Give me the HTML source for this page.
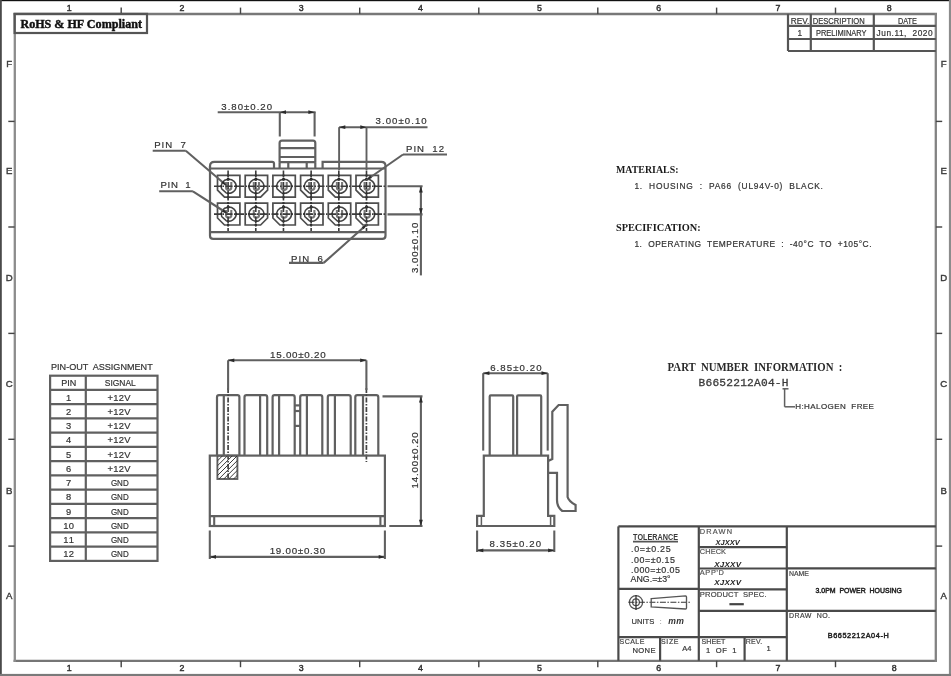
<!DOCTYPE html>
<html><head><meta charset="utf-8"><title>3.0PM Power Housing Drawing</title>
<style>
html,body{margin:0;padding:0;background:#fff;width:951px;height:676px;overflow:hidden;}
svg{display:block;font-family:"Liberation Sans",sans-serif;}
</style></head><body>
<svg xmlns="http://www.w3.org/2000/svg" width="951" height="676" viewBox="0 0 951 676">
<rect width="951" height="676" fill="#ffffff"/>
<g style="will-change:transform">
<rect x="0" y="0" width="951" height="1.2" fill="#111"/>
<rect x="0" y="0" width="1.8" height="676" fill="#4a4a4a"/>
<rect x="948.9" y="0" width="2.1" height="676" fill="#8c8c8c"/>
<rect x="0" y="673.9" width="951" height="2.1" fill="#7a7a7a"/>
<line x1="13.6" y1="14.0" x2="937" y2="14.0" stroke="#787878" stroke-width="2.3"/>
<line x1="13.6" y1="660.8" x2="937" y2="660.8" stroke="#767676" stroke-width="2.3"/>
<line x1="14.8" y1="12.9" x2="14.8" y2="661.9" stroke="#8c8c8c" stroke-width="2.3"/>
<line x1="935.8" y1="12.9" x2="935.8" y2="661.9" stroke="#828282" stroke-width="2.3"/>
<line x1="121.2" y1="7.6" x2="121.2" y2="13.9" stroke="#444" stroke-width="1.42" />
<line x1="121.2" y1="660.8" x2="121.2" y2="667.2" stroke="#444" stroke-width="1.42" />
<line x1="240.5" y1="7.6" x2="240.5" y2="13.9" stroke="#444" stroke-width="1.42" />
<line x1="240.5" y1="660.8" x2="240.5" y2="667.2" stroke="#444" stroke-width="1.42" />
<line x1="359.7" y1="7.6" x2="359.7" y2="13.9" stroke="#444" stroke-width="1.42" />
<line x1="359.7" y1="660.8" x2="359.7" y2="667.2" stroke="#444" stroke-width="1.42" />
<line x1="478.8" y1="7.6" x2="478.8" y2="13.9" stroke="#444" stroke-width="1.42" />
<line x1="478.8" y1="660.8" x2="478.8" y2="667.2" stroke="#444" stroke-width="1.42" />
<line x1="597.8" y1="7.6" x2="597.8" y2="13.9" stroke="#444" stroke-width="1.42" />
<line x1="597.8" y1="660.8" x2="597.8" y2="667.2" stroke="#444" stroke-width="1.42" />
<line x1="716.6" y1="7.6" x2="716.6" y2="13.9" stroke="#444" stroke-width="1.42" />
<line x1="716.6" y1="660.8" x2="716.6" y2="667.2" stroke="#444" stroke-width="1.42" />
<line x1="835.5" y1="7.6" x2="835.5" y2="13.9" stroke="#444" stroke-width="1.42" />
<line x1="835.5" y1="660.8" x2="835.5" y2="667.2" stroke="#444" stroke-width="1.42" />
<line x1="8.3" y1="121.4" x2="14.6" y2="121.4" stroke="#444" stroke-width="1.42" />
<line x1="935.9" y1="121.4" x2="942.2" y2="121.4" stroke="#444" stroke-width="1.42" />
<line x1="8.3" y1="227" x2="14.6" y2="227" stroke="#444" stroke-width="1.42" />
<line x1="935.9" y1="227" x2="942.2" y2="227" stroke="#444" stroke-width="1.42" />
<line x1="8.3" y1="333.4" x2="14.6" y2="333.4" stroke="#444" stroke-width="1.42" />
<line x1="935.9" y1="333.4" x2="942.2" y2="333.4" stroke="#444" stroke-width="1.42" />
<line x1="8.3" y1="439.3" x2="14.6" y2="439.3" stroke="#444" stroke-width="1.42" />
<line x1="935.9" y1="439.3" x2="942.2" y2="439.3" stroke="#444" stroke-width="1.42" />
<line x1="8.3" y1="546.1" x2="14.6" y2="546.1" stroke="#444" stroke-width="1.42" />
<line x1="935.9" y1="546.1" x2="942.2" y2="546.1" stroke="#444" stroke-width="1.42" />
<text x="69.2" y="10.5" font-family="Liberation Sans" font-size="8.8" font-weight="normal" font-style="normal" text-anchor="middle" fill="#333" xml:space="preserve"  stroke="#333" stroke-width="0.45">1</text>
<text x="69.2" y="671.2" font-family="Liberation Sans" font-size="8.8" font-weight="normal" font-style="normal" text-anchor="middle" fill="#333" xml:space="preserve"  stroke="#333" stroke-width="0.45">1</text>
<text x="181.9" y="10.5" font-family="Liberation Sans" font-size="8.8" font-weight="normal" font-style="normal" text-anchor="middle" fill="#333" xml:space="preserve"  stroke="#333" stroke-width="0.45">2</text>
<text x="181.9" y="671.2" font-family="Liberation Sans" font-size="8.8" font-weight="normal" font-style="normal" text-anchor="middle" fill="#333" xml:space="preserve"  stroke="#333" stroke-width="0.45">2</text>
<text x="301.2" y="10.5" font-family="Liberation Sans" font-size="8.8" font-weight="normal" font-style="normal" text-anchor="middle" fill="#333" xml:space="preserve"  stroke="#333" stroke-width="0.45">3</text>
<text x="301.2" y="671.2" font-family="Liberation Sans" font-size="8.8" font-weight="normal" font-style="normal" text-anchor="middle" fill="#333" xml:space="preserve"  stroke="#333" stroke-width="0.45">3</text>
<text x="420.5" y="10.5" font-family="Liberation Sans" font-size="8.8" font-weight="normal" font-style="normal" text-anchor="middle" fill="#333" xml:space="preserve"  stroke="#333" stroke-width="0.45">4</text>
<text x="420.5" y="671.2" font-family="Liberation Sans" font-size="8.8" font-weight="normal" font-style="normal" text-anchor="middle" fill="#333" xml:space="preserve"  stroke="#333" stroke-width="0.45">4</text>
<text x="539.5" y="10.5" font-family="Liberation Sans" font-size="8.8" font-weight="normal" font-style="normal" text-anchor="middle" fill="#333" xml:space="preserve"  stroke="#333" stroke-width="0.45">5</text>
<text x="539.5" y="671.2" font-family="Liberation Sans" font-size="8.8" font-weight="normal" font-style="normal" text-anchor="middle" fill="#333" xml:space="preserve"  stroke="#333" stroke-width="0.45">5</text>
<text x="658.6" y="10.5" font-family="Liberation Sans" font-size="8.8" font-weight="normal" font-style="normal" text-anchor="middle" fill="#333" xml:space="preserve"  stroke="#333" stroke-width="0.45">6</text>
<text x="658.6" y="671.2" font-family="Liberation Sans" font-size="8.8" font-weight="normal" font-style="normal" text-anchor="middle" fill="#333" xml:space="preserve"  stroke="#333" stroke-width="0.45">6</text>
<text x="777.9" y="10.5" font-family="Liberation Sans" font-size="8.8" font-weight="normal" font-style="normal" text-anchor="middle" fill="#333" xml:space="preserve"  stroke="#333" stroke-width="0.45">7</text>
<text x="777.9" y="671.2" font-family="Liberation Sans" font-size="8.8" font-weight="normal" font-style="normal" text-anchor="middle" fill="#333" xml:space="preserve"  stroke="#333" stroke-width="0.45">7</text>
<text x="889.2" y="10.5" font-family="Liberation Sans" font-size="8.8" font-weight="normal" font-style="normal" text-anchor="middle" fill="#333" xml:space="preserve"  stroke="#333" stroke-width="0.45">8</text>
<text x="894.2" y="671.2" font-family="Liberation Sans" font-size="8.8" font-weight="normal" font-style="normal" text-anchor="middle" fill="#333" xml:space="preserve"  stroke="#333" stroke-width="0.45">8</text>
<text x="9.3" y="66.89999999999999" font-family="Liberation Sans" font-size="9.6" font-weight="normal" font-style="normal" text-anchor="middle" fill="#3a3a3a" xml:space="preserve"  stroke="#3a3a3a" stroke-width="0.4">F</text>
<text x="943.8" y="66.89999999999999" font-family="Liberation Sans" font-size="9.6" font-weight="normal" font-style="normal" text-anchor="middle" fill="#3a3a3a" xml:space="preserve"  stroke="#3a3a3a" stroke-width="0.4">F</text>
<text x="9.3" y="174.2" font-family="Liberation Sans" font-size="9.6" font-weight="normal" font-style="normal" text-anchor="middle" fill="#3a3a3a" xml:space="preserve"  stroke="#3a3a3a" stroke-width="0.4">E</text>
<text x="943.8" y="174.2" font-family="Liberation Sans" font-size="9.6" font-weight="normal" font-style="normal" text-anchor="middle" fill="#3a3a3a" xml:space="preserve"  stroke="#3a3a3a" stroke-width="0.4">E</text>
<text x="9.3" y="281.0" font-family="Liberation Sans" font-size="9.6" font-weight="normal" font-style="normal" text-anchor="middle" fill="#3a3a3a" xml:space="preserve"  stroke="#3a3a3a" stroke-width="0.4">D</text>
<text x="943.8" y="281.0" font-family="Liberation Sans" font-size="9.6" font-weight="normal" font-style="normal" text-anchor="middle" fill="#3a3a3a" xml:space="preserve"  stroke="#3a3a3a" stroke-width="0.4">D</text>
<text x="9.3" y="387.3" font-family="Liberation Sans" font-size="9.6" font-weight="normal" font-style="normal" text-anchor="middle" fill="#3a3a3a" xml:space="preserve"  stroke="#3a3a3a" stroke-width="0.4">C</text>
<text x="943.8" y="387.3" font-family="Liberation Sans" font-size="9.6" font-weight="normal" font-style="normal" text-anchor="middle" fill="#3a3a3a" xml:space="preserve"  stroke="#3a3a3a" stroke-width="0.4">C</text>
<text x="9.3" y="493.8" font-family="Liberation Sans" font-size="9.6" font-weight="normal" font-style="normal" text-anchor="middle" fill="#3a3a3a" xml:space="preserve"  stroke="#3a3a3a" stroke-width="0.4">B</text>
<text x="943.8" y="493.8" font-family="Liberation Sans" font-size="9.6" font-weight="normal" font-style="normal" text-anchor="middle" fill="#3a3a3a" xml:space="preserve"  stroke="#3a3a3a" stroke-width="0.4">B</text>
<text x="9.3" y="599.4" font-family="Liberation Sans" font-size="9.6" font-weight="normal" font-style="normal" text-anchor="middle" fill="#3a3a3a" xml:space="preserve"  stroke="#3a3a3a" stroke-width="0.4">A</text>
<text x="943.8" y="599.4" font-family="Liberation Sans" font-size="9.6" font-weight="normal" font-style="normal" text-anchor="middle" fill="#3a3a3a" xml:space="preserve"  stroke="#3a3a3a" stroke-width="0.4">A</text>
<rect x="14.6" y="13.9" width="132.4" height="19.1" stroke="#555" stroke-width="2.2" fill="none" rx="0"/>
<text x="20.4" y="28.1" font-family="Liberation Serif" font-size="12.9" font-weight="bold" font-style="normal" text-anchor="start" fill="#111" textLength="121.6" lengthAdjust="spacingAndGlyphs" xml:space="preserve"  stroke="#111" stroke-width="0.45">RoHS &amp; HF Compliant</text>
<line x1="788" y1="25.8" x2="935.9" y2="25.8" stroke="#555" stroke-width="2.2" />
<line x1="788" y1="39.0" x2="935.9" y2="39.0" stroke="#555" stroke-width="2.2" />
<line x1="788" y1="51.0" x2="935.9" y2="51.0" stroke="#555" stroke-width="2.2" />
<line x1="788" y1="13.9" x2="788" y2="51" stroke="#555" stroke-width="2.2" />
<line x1="810.8" y1="13.9" x2="810.8" y2="51" stroke="#555" stroke-width="2.2" />
<line x1="873.8" y1="13.9" x2="873.8" y2="51" stroke="#555" stroke-width="2.2" />
<text x="790.7" y="23.5" font-family="Liberation Sans" font-size="8.3" font-weight="normal" font-style="normal" text-anchor="start" fill="#333333" textLength="18.7" lengthAdjust="spacing" xml:space="preserve"  stroke="#333333" stroke-width="0.2">REV.</text>
<text x="812.7" y="23.5" font-family="Liberation Sans" font-size="8.3" font-weight="normal" font-style="normal" text-anchor="start" fill="#333333" textLength="52" lengthAdjust="spacingAndGlyphs" xml:space="preserve"  stroke="#333333" stroke-width="0.2">DESCRIPTION</text>
<text x="897.9" y="23.5" font-family="Liberation Sans" font-size="8.3" font-weight="normal" font-style="normal" text-anchor="start" fill="#333333" textLength="19.0" lengthAdjust="spacingAndGlyphs" xml:space="preserve"  stroke="#333333" stroke-width="0.2">DATE</text>
<text x="799.7" y="35.5" font-family="Liberation Sans" font-size="8.3" font-weight="normal" font-style="normal" text-anchor="middle" fill="#333333" xml:space="preserve"  stroke="#333333" stroke-width="0.2">1</text>
<text x="816" y="35.5" font-family="Liberation Sans" font-size="8.3" font-weight="normal" font-style="normal" text-anchor="start" fill="#333333" textLength="50.5" lengthAdjust="spacingAndGlyphs" xml:space="preserve"  stroke="#333333" stroke-width="0.2">PRELIMINARY</text>
<text x="876.6" y="35.5" font-family="Liberation Sans" font-size="8.3" font-weight="normal" font-style="normal" text-anchor="start" fill="#333333" textLength="56" lengthAdjust="spacing" xml:space="preserve"  stroke="#333333" stroke-width="0.2">Jun.11,  2020</text>
<path d="M210.0,168.5 L210.0,166.2 Q210.0,161.8 214.4,161.8 L272.2,161.8 Q274,161.8 274,163.6 L274,168.5" stroke="#606060" stroke-width="2.2" fill="none" />
<path d="M322.6,168.5 L322.6,161.9 L381.3,161.9 Q385.5,161.9 385.5,166.1" stroke="#606060" stroke-width="2.2" fill="none" />
<path d="M210.0,166.2 L210.0,235.7 Q210.0,238.9 213.2,238.9 L382.3,238.9 Q385.5,238.9 385.5,235.7 L385.5,166.1" stroke="#606060" stroke-width="2.2" fill="none" />
<line x1="210.0" y1="168.5" x2="385.5" y2="168.5" stroke="#606060" stroke-width="2.2" />
<line x1="210.0" y1="232.1" x2="385.5" y2="232.1" stroke="#606060" stroke-width="2.2" />
<path d="M279.6,162.1 L279.6,143 Q279.6,140.6 282,140.6 L313,140.6 Q315.3,140.6 315.3,143 L315.3,162.1" stroke="#606060" stroke-width="2.2" fill="none" />
<line x1="279.6" y1="148.2" x2="315.3" y2="148.2" stroke="#606060" stroke-width="2.2" />
<line x1="279.6" y1="157" x2="315.3" y2="157" stroke="#606060" stroke-width="2.2" />
<line x1="279.6" y1="162.1" x2="315.3" y2="162.1" stroke="#606060" stroke-width="2.2" />
<line x1="279.6" y1="162.1" x2="279.6" y2="168.3" stroke="#606060" stroke-width="2.2" />
<line x1="288.3" y1="162.1" x2="288.3" y2="168.3" stroke="#606060" stroke-width="2.2" />
<line x1="306.7" y1="162.1" x2="306.7" y2="168.3" stroke="#606060" stroke-width="2.2" />
<line x1="315.3" y1="162.1" x2="315.3" y2="168.3" stroke="#606060" stroke-width="2.2" />
<path d="M217.5,175.4 L239.9,175.4 L239.9,197.2 L224.5,197.2 L217.5,190.2 Z" stroke="#4e4e4e" stroke-width="1.71" fill="none" />
<path d="M221.65,188.69 A7.5,7.0 0 1 1 226.13,192.88 Z" stroke="#444" stroke-width="1.52" fill="none" />
<path d="M226.1,182.1 L226.1,187.8 Q226.1,189.9 228.7,189.9 Q231.3,189.9 231.3,187.8 L231.3,182.1" stroke="#777" stroke-width="2.09" fill="none" />
<circle cx="228.1" cy="179.3" r="1.5" fill="#1e1e1e"/>
<circle cx="228.1" cy="193.3" r="1.2" fill="#2a2a2a"/>
<circle cx="221.2" cy="186.3" r="1.1" fill="#2a2a2a"/>
<circle cx="236.2" cy="186.3" r="1.1" fill="#2a2a2a"/>
<circle cx="228.1" cy="197.2" r="1.2" fill="#2a2a2a"/>
<circle cx="228.1" cy="175.4" r="1.1" fill="#2a2a2a"/>
<path d="M245.2,175.4 L267.6,175.4 L267.6,190.2 L260.6,197.2 L245.2,197.2 Z" stroke="#4e4e4e" stroke-width="1.71" fill="none" />
<path d="M258.97,192.88 A7.5,7.0 0 1 1 263.45,188.69 Z" stroke="#444" stroke-width="1.52" fill="none" />
<path d="M253.8,182.1 L253.8,187.8 Q253.8,189.9 256.4,189.9 Q259.0,189.9 259.0,187.8 L259.0,182.1" stroke="#777" stroke-width="2.09" fill="none" />
<circle cx="255.8" cy="179.3" r="1.5" fill="#1e1e1e"/>
<circle cx="255.8" cy="193.3" r="1.2" fill="#2a2a2a"/>
<circle cx="248.9" cy="186.3" r="1.1" fill="#2a2a2a"/>
<circle cx="263.9" cy="186.3" r="1.1" fill="#2a2a2a"/>
<circle cx="255.8" cy="197.2" r="1.2" fill="#2a2a2a"/>
<circle cx="255.8" cy="175.4" r="1.1" fill="#2a2a2a"/>
<path d="M272.9,175.4 L295.3,175.4 L295.3,197.2 L272.9,197.2 Z" stroke="#4e4e4e" stroke-width="1.71" fill="none" />
<path d="M277.05,188.69 A7.5,7.0 0 1 1 281.53,192.88 Z" stroke="#444" stroke-width="1.52" fill="none" />
<path d="M281.5,182.1 L281.5,187.8 Q281.5,189.9 284.1,189.9 Q286.7,189.9 286.7,187.8 L286.7,182.1" stroke="#777" stroke-width="2.09" fill="none" />
<circle cx="283.5" cy="179.3" r="1.5" fill="#1e1e1e"/>
<circle cx="283.5" cy="193.3" r="1.2" fill="#2a2a2a"/>
<circle cx="276.6" cy="186.3" r="1.1" fill="#2a2a2a"/>
<circle cx="291.6" cy="186.3" r="1.1" fill="#2a2a2a"/>
<circle cx="283.5" cy="197.2" r="1.2" fill="#2a2a2a"/>
<circle cx="283.5" cy="175.4" r="1.1" fill="#2a2a2a"/>
<path d="M300.6,175.4 L323.0,175.4 L323.0,197.2 L307.6,197.2 L300.6,190.2 Z" stroke="#4e4e4e" stroke-width="1.71" fill="none" />
<path d="M304.75,188.69 A7.5,7.0 0 1 1 309.23,192.88 Z" stroke="#444" stroke-width="1.52" fill="none" />
<path d="M309.2,182.1 L309.2,187.8 Q309.2,189.9 311.8,189.9 Q314.4,189.9 314.4,187.8 L314.4,182.1" stroke="#777" stroke-width="2.09" fill="none" />
<circle cx="311.1" cy="179.3" r="1.5" fill="#1e1e1e"/>
<circle cx="311.1" cy="193.3" r="1.2" fill="#2a2a2a"/>
<circle cx="304.3" cy="186.3" r="1.1" fill="#2a2a2a"/>
<circle cx="319.3" cy="186.3" r="1.1" fill="#2a2a2a"/>
<circle cx="311.1" cy="197.2" r="1.2" fill="#2a2a2a"/>
<circle cx="311.1" cy="175.4" r="1.1" fill="#2a2a2a"/>
<path d="M328.3,175.4 L350.7,175.4 L350.7,197.2 L335.3,197.2 L328.3,190.2 Z" stroke="#4e4e4e" stroke-width="1.71" fill="none" />
<path d="M332.45,188.69 A7.5,7.0 0 1 1 336.93,192.88 Z" stroke="#444" stroke-width="1.52" fill="none" />
<path d="M336.9,182.1 L336.9,187.8 Q336.9,189.9 339.5,189.9 Q342.1,189.9 342.1,187.8 L342.1,182.1" stroke="#777" stroke-width="2.09" fill="none" />
<circle cx="338.8" cy="179.3" r="1.5" fill="#1e1e1e"/>
<circle cx="338.8" cy="193.3" r="1.2" fill="#2a2a2a"/>
<circle cx="332.0" cy="186.3" r="1.1" fill="#2a2a2a"/>
<circle cx="347.0" cy="186.3" r="1.1" fill="#2a2a2a"/>
<circle cx="338.8" cy="197.2" r="1.2" fill="#2a2a2a"/>
<circle cx="338.8" cy="175.4" r="1.1" fill="#2a2a2a"/>
<path d="M356.0,175.4 L378.4,175.4 L378.4,197.2 L363.0,197.2 L356.0,190.2 Z" stroke="#4e4e4e" stroke-width="1.71" fill="none" />
<path d="M360.15,188.69 A7.5,7.0 0 1 1 364.63,192.88 Z" stroke="#444" stroke-width="1.52" fill="none" />
<path d="M364.6,182.1 L364.6,187.8 Q364.6,189.9 367.2,189.9 Q369.8,189.9 369.8,187.8 L369.8,182.1" stroke="#777" stroke-width="2.09" fill="none" />
<circle cx="366.5" cy="179.3" r="1.5" fill="#1e1e1e"/>
<circle cx="366.5" cy="193.3" r="1.2" fill="#2a2a2a"/>
<circle cx="359.7" cy="186.3" r="1.1" fill="#2a2a2a"/>
<circle cx="374.7" cy="186.3" r="1.1" fill="#2a2a2a"/>
<circle cx="366.5" cy="197.2" r="1.2" fill="#2a2a2a"/>
<circle cx="366.5" cy="175.4" r="1.1" fill="#2a2a2a"/>
<path d="M217.5,203.2 L239.9,203.2 L239.9,225.0 L224.5,225.0 L217.5,218.0 Z" stroke="#4e4e4e" stroke-width="1.71" fill="none" />
<path d="M221.65,216.49 A7.5,7.0 0 1 1 226.13,220.68 Z" stroke="#444" stroke-width="1.52" fill="none" />
<path d="M226.1,209.9 L226.1,215.6 Q226.1,217.7 228.7,217.7 Q231.3,217.7 231.3,215.6 L231.3,209.9" stroke="#777" stroke-width="2.09" fill="none" />
<circle cx="228.1" cy="207.1" r="1.5" fill="#1e1e1e"/>
<circle cx="228.1" cy="221.1" r="1.2" fill="#2a2a2a"/>
<circle cx="221.2" cy="214.1" r="1.1" fill="#2a2a2a"/>
<circle cx="236.2" cy="214.1" r="1.1" fill="#2a2a2a"/>
<circle cx="228.1" cy="225.0" r="1.2" fill="#2a2a2a"/>
<circle cx="228.1" cy="203.2" r="1.1" fill="#2a2a2a"/>
<path d="M245.2,203.2 L267.6,203.2 L267.6,218.0 L260.6,225.0 L245.2,225.0 Z" stroke="#4e4e4e" stroke-width="1.71" fill="none" />
<path d="M258.97,220.68 A7.5,7.0 0 1 1 263.45,216.49 Z" stroke="#444" stroke-width="1.52" fill="none" />
<path d="M253.8,209.9 L253.8,215.6 Q253.8,217.7 256.4,217.7 Q259.0,217.7 259.0,215.6 L259.0,209.9" stroke="#777" stroke-width="2.09" fill="none" />
<circle cx="255.8" cy="207.1" r="1.5" fill="#1e1e1e"/>
<circle cx="255.8" cy="221.1" r="1.2" fill="#2a2a2a"/>
<circle cx="248.9" cy="214.1" r="1.1" fill="#2a2a2a"/>
<circle cx="263.9" cy="214.1" r="1.1" fill="#2a2a2a"/>
<circle cx="255.8" cy="225.0" r="1.2" fill="#2a2a2a"/>
<circle cx="255.8" cy="203.2" r="1.1" fill="#2a2a2a"/>
<path d="M272.9,203.2 L295.3,203.2 L295.3,225.0 L279.9,225.0 L272.9,218.0 Z" stroke="#4e4e4e" stroke-width="1.71" fill="none" />
<path d="M277.05,216.49 A7.5,7.0 0 1 1 281.53,220.68 Z" stroke="#444" stroke-width="1.52" fill="none" />
<path d="M281.5,209.9 L281.5,215.6 Q281.5,217.7 284.1,217.7 Q286.7,217.7 286.7,215.6 L286.7,209.9" stroke="#777" stroke-width="2.09" fill="none" />
<circle cx="283.5" cy="207.1" r="1.5" fill="#1e1e1e"/>
<circle cx="283.5" cy="221.1" r="1.2" fill="#2a2a2a"/>
<circle cx="276.6" cy="214.1" r="1.1" fill="#2a2a2a"/>
<circle cx="291.6" cy="214.1" r="1.1" fill="#2a2a2a"/>
<circle cx="283.5" cy="225.0" r="1.2" fill="#2a2a2a"/>
<circle cx="283.5" cy="203.2" r="1.1" fill="#2a2a2a"/>
<path d="M300.6,203.2 L323.0,203.2 L323.0,225.0 L307.6,225.0 L300.6,218.0 Z" stroke="#4e4e4e" stroke-width="1.71" fill="none" />
<path d="M304.75,216.49 A7.5,7.0 0 1 1 309.23,220.68 Z" stroke="#444" stroke-width="1.52" fill="none" />
<path d="M309.2,209.9 L309.2,215.6 Q309.2,217.7 311.8,217.7 Q314.4,217.7 314.4,215.6 L314.4,209.9" stroke="#777" stroke-width="2.09" fill="none" />
<circle cx="311.1" cy="207.1" r="1.5" fill="#1e1e1e"/>
<circle cx="311.1" cy="221.1" r="1.2" fill="#2a2a2a"/>
<circle cx="304.3" cy="214.1" r="1.1" fill="#2a2a2a"/>
<circle cx="319.3" cy="214.1" r="1.1" fill="#2a2a2a"/>
<circle cx="311.1" cy="225.0" r="1.2" fill="#2a2a2a"/>
<circle cx="311.1" cy="203.2" r="1.1" fill="#2a2a2a"/>
<path d="M328.3,203.2 L350.7,203.2 L350.7,225.0 L335.3,225.0 L328.3,218.0 Z" stroke="#4e4e4e" stroke-width="1.71" fill="none" />
<path d="M332.45,216.49 A7.5,7.0 0 1 1 336.93,220.68 Z" stroke="#444" stroke-width="1.52" fill="none" />
<path d="M336.9,209.9 L336.9,215.6 Q336.9,217.7 339.5,217.7 Q342.1,217.7 342.1,215.6 L342.1,209.9" stroke="#777" stroke-width="2.09" fill="none" />
<circle cx="338.8" cy="207.1" r="1.5" fill="#1e1e1e"/>
<circle cx="338.8" cy="221.1" r="1.2" fill="#2a2a2a"/>
<circle cx="332.0" cy="214.1" r="1.1" fill="#2a2a2a"/>
<circle cx="347.0" cy="214.1" r="1.1" fill="#2a2a2a"/>
<circle cx="338.8" cy="225.0" r="1.2" fill="#2a2a2a"/>
<circle cx="338.8" cy="203.2" r="1.1" fill="#2a2a2a"/>
<path d="M356.0,203.2 L378.4,203.2 L378.4,225.0 L363.0,225.0 L356.0,218.0 Z" stroke="#4e4e4e" stroke-width="1.71" fill="none" />
<path d="M360.15,216.49 A7.5,7.0 0 1 1 364.63,220.68 Z" stroke="#444" stroke-width="1.52" fill="none" />
<path d="M364.6,209.9 L364.6,215.6 Q364.6,217.7 367.2,217.7 Q369.8,217.7 369.8,215.6 L369.8,209.9" stroke="#777" stroke-width="2.09" fill="none" />
<circle cx="366.5" cy="207.1" r="1.5" fill="#1e1e1e"/>
<circle cx="366.5" cy="221.1" r="1.2" fill="#2a2a2a"/>
<circle cx="359.7" cy="214.1" r="1.1" fill="#2a2a2a"/>
<circle cx="374.7" cy="214.1" r="1.1" fill="#2a2a2a"/>
<circle cx="366.5" cy="225.0" r="1.2" fill="#2a2a2a"/>
<circle cx="366.5" cy="203.2" r="1.1" fill="#2a2a2a"/>
<line x1="214" y1="186.3" x2="385.5" y2="186.3" stroke="#3a3a3a" stroke-width="1.61" stroke-dasharray="7,1.5,1.5,1.5"/>
<line x1="214" y1="214.1" x2="385.5" y2="214.1" stroke="#3a3a3a" stroke-width="1.61" stroke-dasharray="7,1.5,1.5,1.5"/>
<line x1="228.1" y1="170.5" x2="228.1" y2="231" stroke="#3a3a3a" stroke-width="1.61" stroke-dasharray="7,1.5,1.5,1.5"/>
<line x1="255.78" y1="170.5" x2="255.78" y2="231" stroke="#3a3a3a" stroke-width="1.61" stroke-dasharray="7,1.5,1.5,1.5"/>
<line x1="283.46" y1="170.5" x2="283.46" y2="231" stroke="#3a3a3a" stroke-width="1.61" stroke-dasharray="7,1.5,1.5,1.5"/>
<line x1="311.14" y1="170.5" x2="311.14" y2="231" stroke="#3a3a3a" stroke-width="1.61" stroke-dasharray="7,1.5,1.5,1.5"/>
<line x1="338.82" y1="170.5" x2="338.82" y2="231" stroke="#3a3a3a" stroke-width="1.61" stroke-dasharray="7,1.5,1.5,1.5"/>
<line x1="366.5" y1="170.5" x2="366.5" y2="231" stroke="#3a3a3a" stroke-width="1.61" stroke-dasharray="7,1.5,1.5,1.5"/>
<line x1="217.7" y1="112.2" x2="315.6" y2="112.2" stroke="#606060" stroke-width="2.09" />
<line x1="279.8" y1="112.2" x2="279.8" y2="136.5" stroke="#606060" stroke-width="2.09" />
<line x1="314.6" y1="112.2" x2="314.6" y2="136.5" stroke="#606060" stroke-width="2.09" />
<polygon points="279.8,112.2 286.0,110.3 286.0,114.1" fill="#2a2a2a"/>
<polygon points="314.6,112.2 308.4,110.3 308.4,114.1" fill="#2a2a2a"/>
<text x="221.3" y="109.9" font-family="Liberation Sans" font-size="9.6" font-weight="normal" font-style="normal" text-anchor="start" fill="#333333" textLength="50.7" lengthAdjust="spacing" xml:space="preserve"  stroke="#333333" stroke-width="0.2">3.80±0.20</text>
<line x1="339.1" y1="127.2" x2="427.5" y2="127.2" stroke="#606060" stroke-width="2.09" />
<line x1="339.1" y1="127.2" x2="339.1" y2="170" stroke="#606060" stroke-width="1.9" />
<line x1="366.5" y1="127.2" x2="366.5" y2="170" stroke="#606060" stroke-width="1.9" />
<polygon points="339.1,127.2 345.3,125.3 345.3,129.1" fill="#2a2a2a"/>
<polygon points="366.5,127.2 360.3,125.3 360.3,129.1" fill="#2a2a2a"/>
<text x="375.5" y="124.4" font-family="Liberation Sans" font-size="9.6" font-weight="normal" font-style="normal" text-anchor="start" fill="#333333" textLength="51.2" lengthAdjust="spacing" xml:space="preserve"  stroke="#333333" stroke-width="0.2">3.00±0.10</text>
<line x1="387.5" y1="186.3" x2="422.6" y2="186.3" stroke="#606060" stroke-width="2.09" />
<line x1="387.5" y1="214.4" x2="422.6" y2="214.4" stroke="#606060" stroke-width="2.09" />
<line x1="420.9" y1="186.3" x2="420.9" y2="275.4" stroke="#606060" stroke-width="2.09" />
<polygon points="420.9,186.3 419.0,192.5 422.8,192.5" fill="#2a2a2a"/>
<polygon points="420.9,214.4 419.0,208.2 422.8,208.2" fill="#2a2a2a"/>
<text x="0" y="0" font-family="Liberation Sans" font-size="9.6" font-weight="normal" font-style="normal" text-anchor="start" fill="#333333" textLength="50.2" lengthAdjust="spacing" xml:space="preserve" transform="translate(418.2,272.9) rotate(-90)" stroke="#333333" stroke-width="0.2">3.00±0.10</text>
<text x="154.2" y="148.3" font-family="Liberation Sans" font-size="9.6" font-weight="normal" font-style="normal" text-anchor="start" fill="#333333" textLength="31.6" lengthAdjust="spacing" xml:space="preserve"  stroke="#333333" stroke-width="0.2">PIN  7</text>
<line x1="152.7" y1="150.8" x2="185.8" y2="150.8" stroke="#606060" stroke-width="2.09" />
<line x1="185.8" y1="150.8" x2="226.5" y2="185.5" stroke="#606060" stroke-width="2.09" />
<polygon points="226.5,185.5 221.3,183.1 223.3,180.8" fill="#2a2a2a"/>
<text x="160.4" y="188.3" font-family="Liberation Sans" font-size="9.6" font-weight="normal" font-style="normal" text-anchor="start" fill="#333333" textLength="30.2" lengthAdjust="spacing" xml:space="preserve"  stroke="#333333" stroke-width="0.2">PIN  1</text>
<line x1="159.2" y1="191.3" x2="192.9" y2="191.3" stroke="#606060" stroke-width="2.09" />
<line x1="192.9" y1="191.3" x2="227.5" y2="213.5" stroke="#606060" stroke-width="2.09" />
<polygon points="227.5,213.5 222.1,211.8 223.7,209.3" fill="#2a2a2a"/>
<text x="406" y="152.1" font-family="Liberation Sans" font-size="9.6" font-weight="normal" font-style="normal" text-anchor="start" fill="#333333" textLength="38" lengthAdjust="spacing" xml:space="preserve"  stroke="#333333" stroke-width="0.2">PIN  12</text>
<line x1="403" y1="154.5" x2="447" y2="154.5" stroke="#606060" stroke-width="2.09" />
<line x1="403" y1="154.5" x2="366.5" y2="180" stroke="#606060" stroke-width="2.09" />
<polygon points="366.5,180.0 370.1,175.6 371.9,178.1" fill="#2a2a2a"/>
<text x="291" y="261.6" font-family="Liberation Sans" font-size="9.6" font-weight="normal" font-style="normal" text-anchor="start" fill="#333333" textLength="31.9" lengthAdjust="spacing" xml:space="preserve"  stroke="#333333" stroke-width="0.2">PIN  6</text>
<line x1="289" y1="262.9" x2="323.7" y2="262.9" stroke="#606060" stroke-width="2.09" />
<line x1="323.7" y1="262.9" x2="366.8" y2="224.5" stroke="#606060" stroke-width="2.09" />
<polygon points="366.8,224.5 363.7,229.3 361.7,227.0" fill="#2a2a2a"/>
<path d="M217,455.6 L217,397.2 Q217,395.2 219,395.2 L237.4,395.2 Q239.4,395.2 239.4,397.2 L239.4,455.6" stroke="#606060" stroke-width="2.2" fill="none" />
<line x1="223.8" y1="395.2" x2="223.8" y2="455.6" stroke="#606060" stroke-width="2.2" />
<path d="M244.5,455.6 L244.5,397.2 Q244.5,395.2 246.5,395.2 L265.2,395.2 Q267.2,395.2 267.2,397.2 L267.2,455.6" stroke="#606060" stroke-width="2.2" fill="none" />
<line x1="260.1" y1="395.2" x2="260.1" y2="455.6" stroke="#606060" stroke-width="2.2" />
<path d="M272.6,455.6 L272.6,397.2 Q272.6,395.2 274.6,395.2 L292.7,395.2 Q294.7,395.2 294.7,397.2 L294.7,455.6" stroke="#606060" stroke-width="2.2" fill="none" />
<line x1="279.1" y1="395.2" x2="279.1" y2="455.6" stroke="#606060" stroke-width="2.2" />
<path d="M300.2,455.6 L300.2,397.2 Q300.2,395.2 302.2,395.2 L320.3,395.2 Q322.3,395.2 322.3,397.2 L322.3,455.6" stroke="#606060" stroke-width="2.2" fill="none" />
<line x1="306.9" y1="395.2" x2="306.9" y2="455.6" stroke="#606060" stroke-width="2.2" />
<path d="M327.8,455.6 L327.8,397.2 Q327.8,395.2 329.8,395.2 L348.7,395.2 Q350.7,395.2 350.7,397.2 L350.7,455.6" stroke="#606060" stroke-width="2.2" fill="none" />
<line x1="334.9" y1="395.2" x2="334.9" y2="455.6" stroke="#606060" stroke-width="2.2" />
<path d="M355.3,455.6 L355.3,397.2 Q355.3,395.2 357.3,395.2 L376.3,395.2 Q378.3,395.2 378.3,397.2 L378.3,455.6" stroke="#606060" stroke-width="2.2" fill="none" />
<line x1="363" y1="395.2" x2="363" y2="455.6" stroke="#606060" stroke-width="2.2" />
<line x1="294.7" y1="405.4" x2="300.2" y2="405.4" stroke="#606060" stroke-width="2.2" />
<line x1="294.7" y1="411" x2="300.2" y2="411" stroke="#606060" stroke-width="2.2" />
<line x1="294.7" y1="425.9" x2="300.2" y2="425.9" stroke="#606060" stroke-width="2.2" />
<line x1="228.1" y1="388" x2="228.1" y2="478" stroke="#444" stroke-width="1.71" stroke-dasharray="5,1.5,1.5,1.5"/>
<line x1="366.4" y1="388" x2="366.4" y2="462" stroke="#444" stroke-width="1.71" stroke-dasharray="5,1.5,1.5,1.5"/>
<rect x="209.8" y="455.6" width="175.1" height="70.4" stroke="#606060" stroke-width="2.2" fill="none" rx="0"/>
<line x1="209.8" y1="516.2" x2="384.9" y2="516.2" stroke="#606060" stroke-width="2.2" />
<line x1="214.2" y1="516.2" x2="214.2" y2="526" stroke="#606060" stroke-width="2.09" />
<line x1="380.4" y1="516.2" x2="380.4" y2="526" stroke="#606060" stroke-width="2.09" />
<rect x="217.4" y="455.6" width="20.0" height="23.4" stroke="#606060" stroke-width="1.9" fill="none" rx="0"/>
<clipPath id="hc"><rect x="217.4" y="455.6" width="20.0" height="23.4"/></clipPath>
<path d="M189.5,479 L212.9,455.6 M194.4,479 L217.8,455.6 M199.3,479 L222.7,455.6 M204.2,479 L227.6,455.6 M209.1,479 L232.5,455.6 M214.0,479 L237.4,455.6 M218.9,479 L242.3,455.6 M223.8,479 L247.2,455.6 M228.7,479 L252.1,455.6 M233.6,479 L257.0,455.6 M238.5,479 L261.9,455.6 M243.4,479 L266.8,455.6 M248.3,479 L271.7,455.6 M253.2,479 L276.6,455.6 M258.1,479 L281.5,455.6 M263.0,479 L286.4,455.6" stroke="#333" stroke-width="0.95" fill="none" clip-path="url(#hc)"/>
<line x1="228.1" y1="360.3" x2="366.4" y2="360.3" stroke="#606060" stroke-width="2.09" />
<line x1="228.1" y1="360.3" x2="228.1" y2="390" stroke="#606060" stroke-width="2.09" />
<line x1="366.4" y1="360.3" x2="366.4" y2="390" stroke="#606060" stroke-width="2.09" />
<polygon points="228.1,360.3 234.3,358.4 234.3,362.2" fill="#2a2a2a"/>
<polygon points="366.4,360.3 360.2,358.4 360.2,362.2" fill="#2a2a2a"/>
<text x="270.1" y="357.6" font-family="Liberation Sans" font-size="9.8" font-weight="normal" font-style="normal" text-anchor="start" fill="#333333" textLength="55.5" lengthAdjust="spacing" xml:space="preserve"  stroke="#333333" stroke-width="0.2">15.00±0.20</text>
<line x1="382.5" y1="396.4" x2="422.5" y2="396.4" stroke="#606060" stroke-width="2.09" />
<line x1="389.3" y1="526" x2="422.5" y2="526" stroke="#606060" stroke-width="2.09" />
<line x1="420.9" y1="396.4" x2="420.9" y2="526" stroke="#606060" stroke-width="2.09" />
<polygon points="420.9,396.4 419.0,402.6 422.8,402.6" fill="#2a2a2a"/>
<polygon points="420.9,526.0 419.0,519.8 422.8,519.8" fill="#2a2a2a"/>
<text x="0" y="0" font-family="Liberation Sans" font-size="9.8" font-weight="normal" font-style="normal" text-anchor="start" fill="#333333" textLength="56.2" lengthAdjust="spacing" xml:space="preserve" transform="translate(418.1,488.6) rotate(-90)" stroke="#333333" stroke-width="0.2">14.00±0.20</text>
<line x1="209.8" y1="530.5" x2="209.8" y2="559" stroke="#606060" stroke-width="2.09" />
<line x1="384.9" y1="530.5" x2="384.9" y2="559" stroke="#606060" stroke-width="2.09" />
<line x1="209.8" y1="556.9" x2="384.9" y2="556.9" stroke="#606060" stroke-width="2.09" />
<polygon points="209.8,556.9 216.0,555.0 216.0,558.8" fill="#2a2a2a"/>
<polygon points="384.9,556.9 378.7,555.0 378.7,558.8" fill="#2a2a2a"/>
<text x="269.7" y="553.5" font-family="Liberation Sans" font-size="9.8" font-weight="normal" font-style="normal" text-anchor="start" fill="#333333" textLength="55.5" lengthAdjust="spacing" xml:space="preserve"  stroke="#333333" stroke-width="0.2">19.00±0.30</text>
<path d="M489.7,455.4 L489.7,396.4 Q489.7,395.4 490.7,395.4 L512.2,395.4 Q513.2,395.4 513.2,396.4 L513.2,455.4" stroke="#606060" stroke-width="2.2" fill="none" />
<path d="M517.1,455.4 L517.1,396.4 Q517.1,395.4 518.1,395.4 L540.2,395.4 Q541.2,395.4 541.2,396.4 L541.2,455.4" stroke="#606060" stroke-width="2.2" fill="none" />
<path d="M483.8,455.6 L483.8,515.8 L477.1,515.8 L477.1,526 L554.3,526 L554.3,515.8 L548.1,515.8 L548.1,455.6 Z" stroke="#606060" stroke-width="2.2" fill="none" />
<line x1="481.4" y1="515.8" x2="481.4" y2="526" stroke="#606060" stroke-width="1.52" />
<line x1="550.6" y1="515.8" x2="550.6" y2="526" stroke="#606060" stroke-width="1.52" />
<path d="M548.1,461 L552.3,459 L552.3,411.7 L558.6,405 L567.6,405 L567.6,497 Q568.5,501 575.6,505 L575.6,511 L562.3,511 Q557,507 557,500 L557,472.8 L548.1,472.8" stroke="#606060" stroke-width="2.2" fill="none" />
<line x1="483.2" y1="373.2" x2="547.7" y2="373.2" stroke="#606060" stroke-width="2.09" />
<line x1="483.2" y1="373.2" x2="483.2" y2="450.6" stroke="#606060" stroke-width="2.09" />
<line x1="547.7" y1="373.2" x2="547.7" y2="450.6" stroke="#606060" stroke-width="2.09" />
<polygon points="483.2,373.2 489.4,371.3 489.4,375.1" fill="#2a2a2a"/>
<polygon points="547.7,373.2 541.5,371.3 541.5,375.1" fill="#2a2a2a"/>
<text x="490.2" y="370.5" font-family="Liberation Sans" font-size="9.6" font-weight="normal" font-style="normal" text-anchor="start" fill="#333333" textLength="51.3" lengthAdjust="spacing" xml:space="preserve"  stroke="#333333" stroke-width="0.2">6.85±0.20</text>
<line x1="477.1" y1="530.5" x2="477.1" y2="552" stroke="#606060" stroke-width="2.09" />
<line x1="554.3" y1="530.5" x2="554.3" y2="552" stroke="#606060" stroke-width="2.09" />
<line x1="477.1" y1="550.4" x2="554.3" y2="550.4" stroke="#606060" stroke-width="2.09" />
<polygon points="477.1,550.4 483.3,548.5 483.3,552.3" fill="#2a2a2a"/>
<polygon points="554.3,550.4 548.1,548.5 548.1,552.3" fill="#2a2a2a"/>
<text x="489.5" y="547.3" font-family="Liberation Sans" font-size="9.6" font-weight="normal" font-style="normal" text-anchor="start" fill="#333333" textLength="51.5" lengthAdjust="spacing" xml:space="preserve"  stroke="#333333" stroke-width="0.2">8.35±0.20</text>
<text x="51" y="369.5" font-family="Liberation Sans" font-size="9.6" font-weight="normal" font-style="normal" text-anchor="start" fill="#333333" textLength="101.7" lengthAdjust="spacingAndGlyphs" xml:space="preserve"  stroke="#333333" stroke-width="0.2">PIN-OUT  ASSIGNMENT</text>
<rect x="50.1" y="375.7" width="107.4" height="185.2" stroke="#606060" stroke-width="2.2" fill="none" rx="0"/>
<line x1="85.8" y1="375.7" x2="85.8" y2="560.9" stroke="#606060" stroke-width="2.2" />
<line x1="50.1" y1="389.94599999999997" x2="157.5" y2="389.94599999999997" stroke="#606060" stroke-width="2.2" />
<line x1="50.1" y1="404.192" x2="157.5" y2="404.192" stroke="#606060" stroke-width="2.2" />
<line x1="50.1" y1="418.438" x2="157.5" y2="418.438" stroke="#606060" stroke-width="2.2" />
<line x1="50.1" y1="432.68399999999997" x2="157.5" y2="432.68399999999997" stroke="#606060" stroke-width="2.2" />
<line x1="50.1" y1="446.93" x2="157.5" y2="446.93" stroke="#606060" stroke-width="2.2" />
<line x1="50.1" y1="461.176" x2="157.5" y2="461.176" stroke="#606060" stroke-width="2.2" />
<line x1="50.1" y1="475.422" x2="157.5" y2="475.422" stroke="#606060" stroke-width="2.2" />
<line x1="50.1" y1="489.668" x2="157.5" y2="489.668" stroke="#606060" stroke-width="2.2" />
<line x1="50.1" y1="503.914" x2="157.5" y2="503.914" stroke="#606060" stroke-width="2.2" />
<line x1="50.1" y1="518.16" x2="157.5" y2="518.16" stroke="#606060" stroke-width="2.2" />
<line x1="50.1" y1="532.406" x2="157.5" y2="532.406" stroke="#606060" stroke-width="2.2" />
<line x1="50.1" y1="546.652" x2="157.5" y2="546.652" stroke="#606060" stroke-width="2.2" />
<text x="68.8" y="386.4" font-family="Liberation Sans" font-size="9.4" font-weight="normal" font-style="normal" text-anchor="middle" fill="#333333" textLength="15.1" lengthAdjust="spacingAndGlyphs" xml:space="preserve"  stroke="#333333" stroke-width="0.2">PIN</text>
<text x="120.3" y="386.4" font-family="Liberation Sans" font-size="9.4" font-weight="normal" font-style="normal" text-anchor="middle" fill="#333333" textLength="31" lengthAdjust="spacingAndGlyphs" xml:space="preserve"  stroke="#333333" stroke-width="0.2">SIGNAL</text>
<text x="68.6" y="400.64599999999996" font-family="Liberation Sans" font-size="9.4" font-weight="normal" font-style="normal" text-anchor="middle" fill="#333333" textLength="5.2" lengthAdjust="spacingAndGlyphs" xml:space="preserve"  stroke="#333333" stroke-width="0.2">1</text>
<text x="119.1" y="400.64599999999996" font-family="Liberation Sans" font-size="9.4" font-weight="normal" font-style="normal" text-anchor="middle" fill="#333333" textLength="23" lengthAdjust="spacing" xml:space="preserve"  stroke="#333333" stroke-width="0.2">+12V</text>
<text x="68.6" y="414.892" font-family="Liberation Sans" font-size="9.4" font-weight="normal" font-style="normal" text-anchor="middle" fill="#333333" textLength="5.2" lengthAdjust="spacingAndGlyphs" xml:space="preserve"  stroke="#333333" stroke-width="0.2">2</text>
<text x="119.1" y="414.892" font-family="Liberation Sans" font-size="9.4" font-weight="normal" font-style="normal" text-anchor="middle" fill="#333333" textLength="23" lengthAdjust="spacing" xml:space="preserve"  stroke="#333333" stroke-width="0.2">+12V</text>
<text x="68.6" y="429.138" font-family="Liberation Sans" font-size="9.4" font-weight="normal" font-style="normal" text-anchor="middle" fill="#333333" textLength="5.2" lengthAdjust="spacingAndGlyphs" xml:space="preserve"  stroke="#333333" stroke-width="0.2">3</text>
<text x="119.1" y="429.138" font-family="Liberation Sans" font-size="9.4" font-weight="normal" font-style="normal" text-anchor="middle" fill="#333333" textLength="23" lengthAdjust="spacing" xml:space="preserve"  stroke="#333333" stroke-width="0.2">+12V</text>
<text x="68.6" y="443.38399999999996" font-family="Liberation Sans" font-size="9.4" font-weight="normal" font-style="normal" text-anchor="middle" fill="#333333" textLength="5.2" lengthAdjust="spacingAndGlyphs" xml:space="preserve"  stroke="#333333" stroke-width="0.2">4</text>
<text x="119.1" y="443.38399999999996" font-family="Liberation Sans" font-size="9.4" font-weight="normal" font-style="normal" text-anchor="middle" fill="#333333" textLength="23" lengthAdjust="spacing" xml:space="preserve"  stroke="#333333" stroke-width="0.2">+12V</text>
<text x="68.6" y="457.63" font-family="Liberation Sans" font-size="9.4" font-weight="normal" font-style="normal" text-anchor="middle" fill="#333333" textLength="5.2" lengthAdjust="spacingAndGlyphs" xml:space="preserve"  stroke="#333333" stroke-width="0.2">5</text>
<text x="119.1" y="457.63" font-family="Liberation Sans" font-size="9.4" font-weight="normal" font-style="normal" text-anchor="middle" fill="#333333" textLength="23" lengthAdjust="spacing" xml:space="preserve"  stroke="#333333" stroke-width="0.2">+12V</text>
<text x="68.6" y="471.876" font-family="Liberation Sans" font-size="9.4" font-weight="normal" font-style="normal" text-anchor="middle" fill="#333333" textLength="5.2" lengthAdjust="spacingAndGlyphs" xml:space="preserve"  stroke="#333333" stroke-width="0.2">6</text>
<text x="119.1" y="471.876" font-family="Liberation Sans" font-size="9.4" font-weight="normal" font-style="normal" text-anchor="middle" fill="#333333" textLength="23" lengthAdjust="spacing" xml:space="preserve"  stroke="#333333" stroke-width="0.2">+12V</text>
<text x="68.6" y="486.122" font-family="Liberation Sans" font-size="9.4" font-weight="normal" font-style="normal" text-anchor="middle" fill="#333333" textLength="5.2" lengthAdjust="spacingAndGlyphs" xml:space="preserve"  stroke="#333333" stroke-width="0.2">7</text>
<text x="119.8" y="486.122" font-family="Liberation Sans" font-size="9.4" font-weight="normal" font-style="normal" text-anchor="middle" fill="#333333" textLength="17.8" lengthAdjust="spacingAndGlyphs" xml:space="preserve"  stroke="#333333" stroke-width="0.2">GND</text>
<text x="68.6" y="500.368" font-family="Liberation Sans" font-size="9.4" font-weight="normal" font-style="normal" text-anchor="middle" fill="#333333" textLength="5.2" lengthAdjust="spacingAndGlyphs" xml:space="preserve"  stroke="#333333" stroke-width="0.2">8</text>
<text x="119.8" y="500.368" font-family="Liberation Sans" font-size="9.4" font-weight="normal" font-style="normal" text-anchor="middle" fill="#333333" textLength="17.8" lengthAdjust="spacingAndGlyphs" xml:space="preserve"  stroke="#333333" stroke-width="0.2">GND</text>
<text x="68.6" y="514.614" font-family="Liberation Sans" font-size="9.4" font-weight="normal" font-style="normal" text-anchor="middle" fill="#333333" textLength="5.2" lengthAdjust="spacingAndGlyphs" xml:space="preserve"  stroke="#333333" stroke-width="0.2">9</text>
<text x="119.8" y="514.614" font-family="Liberation Sans" font-size="9.4" font-weight="normal" font-style="normal" text-anchor="middle" fill="#333333" textLength="17.8" lengthAdjust="spacingAndGlyphs" xml:space="preserve"  stroke="#333333" stroke-width="0.2">GND</text>
<text x="68.6" y="528.86" font-family="Liberation Sans" font-size="9.4" font-weight="normal" font-style="normal" text-anchor="middle" fill="#333333" textLength="10.6" lengthAdjust="spacing" xml:space="preserve"  stroke="#333333" stroke-width="0.2">10</text>
<text x="119.8" y="528.86" font-family="Liberation Sans" font-size="9.4" font-weight="normal" font-style="normal" text-anchor="middle" fill="#333333" textLength="17.8" lengthAdjust="spacingAndGlyphs" xml:space="preserve"  stroke="#333333" stroke-width="0.2">GND</text>
<text x="68.6" y="543.106" font-family="Liberation Sans" font-size="9.4" font-weight="normal" font-style="normal" text-anchor="middle" fill="#333333" textLength="10.6" lengthAdjust="spacing" xml:space="preserve"  stroke="#333333" stroke-width="0.2">11</text>
<text x="119.8" y="543.106" font-family="Liberation Sans" font-size="9.4" font-weight="normal" font-style="normal" text-anchor="middle" fill="#333333" textLength="17.8" lengthAdjust="spacingAndGlyphs" xml:space="preserve"  stroke="#333333" stroke-width="0.2">GND</text>
<text x="68.6" y="557.3520000000001" font-family="Liberation Sans" font-size="9.4" font-weight="normal" font-style="normal" text-anchor="middle" fill="#333333" textLength="10.6" lengthAdjust="spacing" xml:space="preserve"  stroke="#333333" stroke-width="0.2">12</text>
<text x="119.8" y="557.3520000000001" font-family="Liberation Sans" font-size="9.4" font-weight="normal" font-style="normal" text-anchor="middle" fill="#333333" textLength="17.8" lengthAdjust="spacingAndGlyphs" xml:space="preserve"  stroke="#333333" stroke-width="0.2">GND</text>
<text x="615.9" y="173" font-family="Liberation Serif" font-size="10.8" font-weight="bold" font-style="normal" text-anchor="start" fill="#1a1a1a" textLength="62.6" lengthAdjust="spacingAndGlyphs" xml:space="preserve" >MATERIALS:</text>
<text x="634.4" y="188.8" font-family="Liberation Sans" font-size="8.4" font-weight="normal" font-style="normal" text-anchor="start" fill="#333" textLength="188.5" lengthAdjust="spacing" xml:space="preserve"  stroke="#333" stroke-width="0.2">1.  HOUSING  :  PA66  (UL94V-0)  BLACK.</text>
<text x="615.9" y="231" font-family="Liberation Serif" font-size="10.8" font-weight="bold" font-style="normal" text-anchor="start" fill="#1a1a1a" textLength="84.8" lengthAdjust="spacingAndGlyphs" xml:space="preserve" >SPECIFICATION:</text>
<text x="634.4" y="246.9" font-family="Liberation Sans" font-size="8.4" font-weight="normal" font-style="normal" text-anchor="start" fill="#333" textLength="237.1" lengthAdjust="spacing" xml:space="preserve"  stroke="#333" stroke-width="0.2">1.  OPERATING  TEMPERATURE  :  -40°C  TO  +105°C.</text>
<text x="667.6" y="370.6" font-family="Liberation Serif" font-size="11.8" font-weight="bold" font-style="normal" text-anchor="start" fill="#2a2a2a" textLength="174.8" lengthAdjust="spacingAndGlyphs" xml:space="preserve" >PART  NUMBER  INFORMATION  :</text>
<text x="698.5" y="385.6" font-family="Liberation Mono" font-size="11.2" font-weight="normal" font-style="normal" text-anchor="start" fill="#3a3a3a" textLength="90" lengthAdjust="spacing" xml:space="preserve"  stroke="#3a3a3a" stroke-width="0.3">B6652212A04-H</text>
<line x1="782.5" y1="388.8" x2="788.5" y2="388.8" stroke="#606060" stroke-width="1.52" />
<line x1="784.6" y1="388.8" x2="784.6" y2="406.8" stroke="#606060" stroke-width="1.52" />
<line x1="784.6" y1="406.8" x2="795" y2="406.8" stroke="#606060" stroke-width="1.52" />
<text x="795.3" y="409.3" font-family="Liberation Sans" font-size="8.0" font-weight="normal" font-style="normal" text-anchor="start" fill="#333" textLength="78.6" lengthAdjust="spacing" xml:space="preserve"  stroke="#333" stroke-width="0.2">H:HALOGEN  FREE</text>
<line x1="618.4" y1="526.4" x2="935.9" y2="526.4" stroke="#4a4a4a" stroke-width="2.2" />
<line x1="618.4" y1="526.4" x2="618.4" y2="660.8" stroke="#4a4a4a" stroke-width="2.2" />
<line x1="698.8" y1="526.4" x2="698.8" y2="660.8" stroke="#4a4a4a" stroke-width="2.2" />
<line x1="786.8" y1="526.4" x2="786.8" y2="660.8" stroke="#4a4a4a" stroke-width="2.2" />
<line x1="618.4" y1="588.8" x2="698.8" y2="588.8" stroke="#4a4a4a" stroke-width="2.2" />
<line x1="618.4" y1="637.2" x2="786.8" y2="637.2" stroke="#4a4a4a" stroke-width="2.2" />
<line x1="698.8" y1="547.2" x2="786.8" y2="547.2" stroke="#4a4a4a" stroke-width="2.2" />
<line x1="698.8" y1="568.5" x2="786.8" y2="568.5" stroke="#4a4a4a" stroke-width="2.2" />
<line x1="698.8" y1="589.4" x2="786.8" y2="589.4" stroke="#4a4a4a" stroke-width="2.2" />
<line x1="698.8" y1="610.8" x2="786.8" y2="610.8" stroke="#4a4a4a" stroke-width="2.2" />
<line x1="786.8" y1="568.4" x2="935.9" y2="568.4" stroke="#4a4a4a" stroke-width="2.2" />
<line x1="786.8" y1="610.9" x2="935.9" y2="610.9" stroke="#4a4a4a" stroke-width="2.2" />
<line x1="660.1" y1="637.2" x2="660.1" y2="660.8" stroke="#4a4a4a" stroke-width="2.2" />
<line x1="744.6" y1="637.2" x2="744.6" y2="660.8" stroke="#4a4a4a" stroke-width="2.2" />
<text x="633.1" y="540.1" font-family="Liberation Sans" font-size="9.6" font-weight="bold" font-style="normal" text-anchor="start" fill="#3a3a3a" textLength="44.9" lengthAdjust="spacingAndGlyphs" xml:space="preserve" >TOLERANCE</text>
<line x1="633" y1="541.7" x2="678" y2="541.7" stroke="#555" stroke-width="1.71" />
<text x="631.1" y="551.8" font-family="Liberation Sans" font-size="8.9" font-weight="normal" font-style="normal" text-anchor="start" fill="#333333" textLength="39.5" lengthAdjust="spacing" xml:space="preserve"  stroke="#333333" stroke-width="0.2">.0=±0.25</text>
<text x="631.1" y="562.5" font-family="Liberation Sans" font-size="8.9" font-weight="normal" font-style="normal" text-anchor="start" fill="#333333" textLength="43.9" lengthAdjust="spacing" xml:space="preserve"  stroke="#333333" stroke-width="0.2">.00=±0.15</text>
<text x="631.1" y="572.8" font-family="Liberation Sans" font-size="8.9" font-weight="normal" font-style="normal" text-anchor="start" fill="#333333" textLength="48.8" lengthAdjust="spacing" xml:space="preserve"  stroke="#333333" stroke-width="0.2">.000=±0.05</text>
<text x="630.6" y="582.4" font-family="Liberation Sans" font-size="8.9" font-weight="normal" font-style="normal" text-anchor="start" fill="#333333" textLength="40" lengthAdjust="spacingAndGlyphs" xml:space="preserve"  stroke="#333333" stroke-width="0.2">ANG.=±3°</text>
<circle cx="636" cy="602.3" r="6.6" fill="none" stroke="#555" stroke-width="1.3"/>
<circle cx="636" cy="602.3" r="3.4" fill="none" stroke="#555" stroke-width="1.2"/>
<line x1="628.4" y1="602.3" x2="690.1" y2="602.3" stroke="#333" stroke-width="1.14" stroke-dasharray="6,1.5,1.5,1.5"/>
<line x1="636" y1="595.1" x2="636" y2="609.9" stroke="#333" stroke-width="1.33" />
<path d="M651.2,598.7 L685.5,595.9 Q686.5,596 686.5,597 L686.5,608 Q686.5,609 685.5,609 L651.2,606.8 Z" stroke="#555" stroke-width="1.33" fill="none" />
<text x="631.5" y="624.2" font-family="Liberation Sans" font-size="8.0" font-weight="normal" font-style="normal" text-anchor="start" fill="#333333" textLength="22.8" lengthAdjust="spacingAndGlyphs" xml:space="preserve"  stroke="#333333" stroke-width="0.2">UNITS</text>
<text x="660.6" y="624.2" font-family="Liberation Sans" font-size="8.0" font-weight="normal" font-style="normal" text-anchor="middle" fill="#999" xml:space="preserve"  stroke="#999" stroke-width="0.2">:</text>
<text x="668.2" y="624.2" font-family="Liberation Sans" font-size="8.6" font-weight="bold" font-style="italic" text-anchor="start" fill="#333333" textLength="15.6" lengthAdjust="spacing" xml:space="preserve" >mm</text>
<text x="699.8" y="533.7" font-family="Liberation Sans" font-size="7.4" font-weight="normal" font-style="normal" text-anchor="start" fill="#555" textLength="32.3" lengthAdjust="spacing" xml:space="preserve"  stroke="#555" stroke-width="0.2">DRAWN</text>
<text x="715.6" y="545" font-family="Liberation Sans" font-size="8.0" font-weight="bold" font-style="italic" text-anchor="start" fill="#222" textLength="24.1" lengthAdjust="spacingAndGlyphs" xml:space="preserve" >XJXXV</text>
<text x="699.8" y="553.9" font-family="Liberation Sans" font-size="7.4" font-weight="normal" font-style="normal" text-anchor="start" fill="#555" textLength="26.2" lengthAdjust="spacing" xml:space="preserve"  stroke="#555" stroke-width="0.2">CHECK</text>
<text x="714.2" y="566.6" font-family="Liberation Sans" font-size="8.0" font-weight="bold" font-style="italic" text-anchor="start" fill="#222" textLength="26.8" lengthAdjust="spacing" xml:space="preserve" >XJXXV</text>
<text x="699.8" y="574.9" font-family="Liberation Sans" font-size="7.4" font-weight="normal" font-style="normal" text-anchor="start" fill="#555" textLength="24.1" lengthAdjust="spacing" xml:space="preserve"  stroke="#555" stroke-width="0.2">APP'D</text>
<text x="714.2" y="585.2" font-family="Liberation Sans" font-size="8.0" font-weight="bold" font-style="italic" text-anchor="start" fill="#222" textLength="26.8" lengthAdjust="spacing" xml:space="preserve" >XJXXV</text>
<text x="699.8" y="596.9" font-family="Liberation Sans" font-size="7.6" font-weight="normal" font-style="normal" text-anchor="start" fill="#444" textLength="66.7" lengthAdjust="spacing" xml:space="preserve"  stroke="#444" stroke-width="0.2">PRODUCT  SPEC.</text>
<line x1="729.4" y1="604.2" x2="743.8" y2="604.2" stroke="#444" stroke-width="2.2" />
<text x="619.6" y="643.8" font-family="Liberation Sans" font-size="7.0" font-weight="normal" font-style="normal" text-anchor="start" fill="#444" textLength="24.8" lengthAdjust="spacing" xml:space="preserve"  stroke="#444" stroke-width="0.2">SCALE</text>
<text x="632.5" y="653" font-family="Liberation Sans" font-size="7.6" font-weight="normal" font-style="normal" text-anchor="start" fill="#333" textLength="23" lengthAdjust="spacing" xml:space="preserve"  stroke="#333" stroke-width="0.2">NONE</text>
<text x="661" y="643.8" font-family="Liberation Sans" font-size="7.0" font-weight="normal" font-style="normal" text-anchor="start" fill="#444" textLength="17.5" lengthAdjust="spacing" xml:space="preserve"  stroke="#444" stroke-width="0.2">SIZE</text>
<text x="682.2" y="650.6" font-family="Liberation Sans" font-size="7.6" font-weight="normal" font-style="normal" text-anchor="start" fill="#333" textLength="9.2" lengthAdjust="spacingAndGlyphs" xml:space="preserve"  stroke="#333" stroke-width="0.2">A4</text>
<text x="701.5" y="643.8" font-family="Liberation Sans" font-size="7.0" font-weight="normal" font-style="normal" text-anchor="start" fill="#444" textLength="23.9" lengthAdjust="spacing" xml:space="preserve"  stroke="#444" stroke-width="0.2">SHEET</text>
<text x="706.1" y="653" font-family="Liberation Sans" font-size="7.6" font-weight="normal" font-style="normal" text-anchor="start" fill="#333" textLength="30.4" lengthAdjust="spacing" xml:space="preserve"  stroke="#333" stroke-width="0.2">1  OF  1</text>
<text x="745.7" y="643.8" font-family="Liberation Sans" font-size="7.0" font-weight="normal" font-style="normal" text-anchor="start" fill="#444" textLength="16.5" lengthAdjust="spacing" xml:space="preserve"  stroke="#444" stroke-width="0.2">REV.</text>
<text x="768.5" y="651.2" font-family="Liberation Sans" font-size="7.6" font-weight="normal" font-style="normal" text-anchor="middle" fill="#333" xml:space="preserve"  stroke="#333" stroke-width="0.2">1</text>
<text x="788.9" y="576" font-family="Liberation Sans" font-size="7.0" font-weight="normal" font-style="normal" text-anchor="start" fill="#444" textLength="20" lengthAdjust="spacingAndGlyphs" xml:space="preserve"  stroke="#444" stroke-width="0.2">NAME</text>
<text x="815.5" y="593.1" font-family="Liberation Sans" font-size="7.3" font-weight="normal" font-style="normal" text-anchor="start" fill="#222" textLength="86.5" lengthAdjust="spacingAndGlyphs" xml:space="preserve"  stroke="#222" stroke-width="0.45">3.0PM  POWER  HOUSING</text>
<text x="788.9" y="618.2" font-family="Liberation Sans" font-size="7.0" font-weight="normal" font-style="normal" text-anchor="start" fill="#444" textLength="41.1" lengthAdjust="spacing" xml:space="preserve"  stroke="#444" stroke-width="0.2">DRAW  NO.</text>
<text x="827.7" y="638.2" font-family="Liberation Sans" font-size="7.3" font-weight="normal" font-style="normal" text-anchor="start" fill="#222" textLength="61" lengthAdjust="spacing" xml:space="preserve"  stroke="#222" stroke-width="0.45">B6652212A04-H</text>
</g>
</svg>
</body></html>
